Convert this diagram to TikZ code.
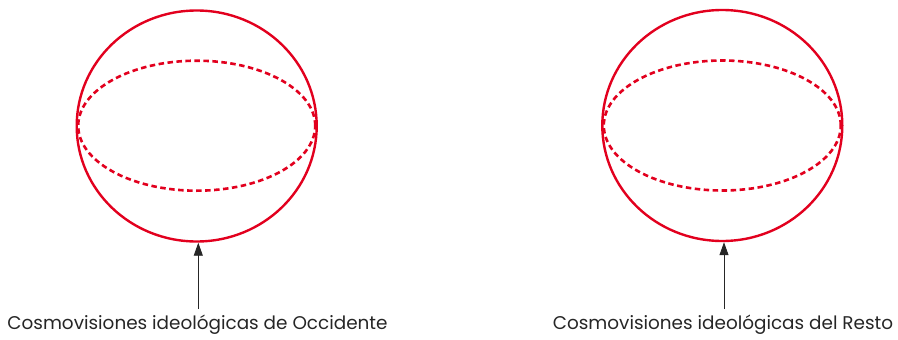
\documentclass[tikz,border=0pt]{standalone}
\usepackage{fontspec}
\setmainfont{Poppins}
\usetikzlibrary{shapes.geometric,arrows.meta}
\definecolor{globered}{RGB}{226,0,30}
\tikzset{
  globe/.style={ellipse,draw=globered,line width=2.4pt,minimum width=240pt,minimum height=231pt,inner sep=0pt},
  equator/.style={ellipse,draw=globered,line width=2.6pt,dash pattern=on 5.5pt off 3.5pt,minimum width=237pt,minimum height=130pt,inner sep=0pt},
  caption/.style={anchor=base,inner sep=0pt,font=\fontsize{18.4}{22}\selectfont,text=black!85},
  pointer/.style={line width=0.9pt,black!85,-{Triangle[length=13pt,width=9pt]}}
}
\begin{document}
\begin{tikzpicture}[x=1pt,y=-1pt]
\useasboundingbox (0,0) rectangle (898,340);
\node[globe] (g1) at (196.7,126) {};
\node[equator] (e1) at (196.7,125.7) {};
\node[globe] (g2) at (722.3,125.5) {};
\node[equator] (e2) at (722.3,125.5) {};
\node[caption] (t1) at (197.5,329) {Cosmovisiones ideológicas de Occidente};
\node[caption] (t2) at (723,329) {Cosmovisiones ideológicas del Resto};
\coordinate (s1) at (198.3,309);
\coordinate (s2) at (724,309);
\draw[pointer] (s1) -- (s1 |- g1.south);
\draw[pointer] (s2) -- (s2 |- g2.south);
\end{tikzpicture}
\end{document}
